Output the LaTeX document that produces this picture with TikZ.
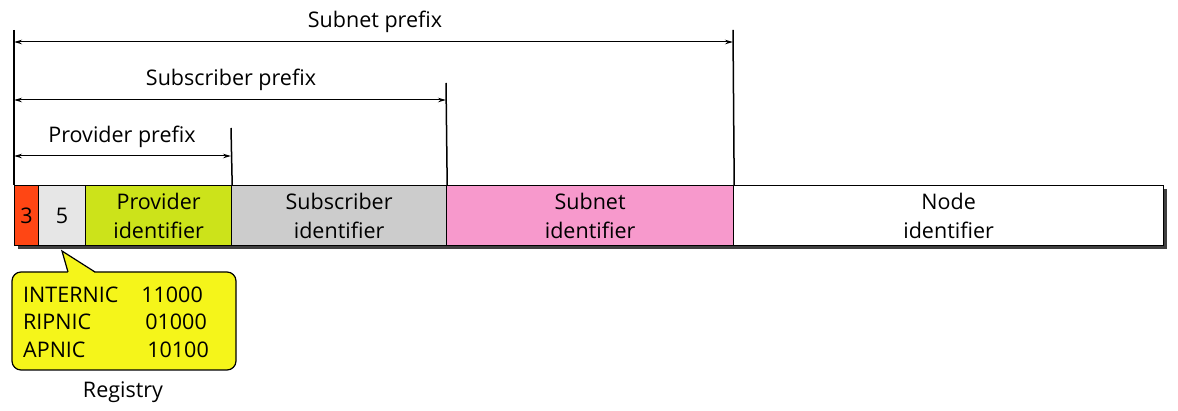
\documentclass[tikz,border=0pt]{standalone}
\usepackage{fontspec}
\setmainfont{Open Sans}
\usetikzlibrary{arrows.meta}
\definecolor{cred}{HTML}{FF4614}
\definecolor{clgray}{HTML}{E6E6E6}
\definecolor{cgreen}{HTML}{CCE31A}
\definecolor{cgray}{HTML}{CCCCCC}
\definecolor{cpink}{HTML}{F799CC}
\definecolor{cyel}{HTML}{F5F51A}
\definecolor{cshadow}{HTML}{404040}
\begin{document}
\begin{tikzpicture}[x=1pt,y=-1pt,
  field/.style={draw=black, line width=1.2pt, minimum height=60pt, inner sep=0pt, align=center, anchor=north west, font=\fontsize{21.5}{29}\selectfont},
  lbl/.style={font=\fontsize{21.5}{26}\selectfont, inner sep=0pt},
  dim/.style={line width=1pt, {Stealth[length=8pt,width=4.5pt]}-{Stealth[length=8pt,width=4.5pt]}},
  tick/.style={line width=1.5pt}]
\useasboundingbox (0,0) rectangle (1178,411);
% shadow
\fill[cshadow] (18,189) rectangle (1167,249);
% fields
\node[field, fill=cred, minimum width=24pt] (f3) at (14,185) {3};
\node[field, fill=clgray, minimum width=47pt] (f5) at (38,185) {5};
\node[field, fill=cgreen, minimum width=146pt] (fp) at (85,185) {Provider\\identifier};
\node[field, fill=cgray, minimum width=215pt] (fs) at (231,185) {Subscriber\\identifier};
\node[field, fill=cpink, minimum width=287pt] (fn) at (446,185) {Subnet\\identifier};
\node[field, fill=white, minimum width=430pt] (fd) at (733,185) {Node\\identifier};
% ticks
\coordinate (t0) at (14,30);
\coordinate (t1) at (231,128);
\coordinate (t2) at (446,83);
\coordinate (t3) at (733,30);
\draw[tick] (t0) -- (f3.north west);
\draw[tick] (t1) -- (fp.north east);
\draw[tick] (t2) -- (fs.north east);
\draw[tick] (t3) -- (fn.north east);
% dimension arrows
\coordinate (a1l) at (14,156); \coordinate (a1r) at (231,156);
\coordinate (a2l) at (14,100); \coordinate (a2r) at (446,100);
\coordinate (a3l) at (14,42); \coordinate (a3r) at (733,42);
\draw[dim] (a1l) -- (a1r);
\draw[dim] (a2l) -- (a2r);
\draw[dim] (a3l) -- (a3r);
\node[lbl] (l1) at (122,137) {Provider prefix};
\node[lbl] (l2) at (231,80) {Subscriber prefix};
\node[lbl] (l3) at (375,22) {Subnet prefix};
% callout
\coordinate (tip) at (62,251);
\draw[fill=cyel, line width=1.2pt, rounded corners=9pt] (12,272) rectangle (236,370);
\fill[cyel] (68,273) -- (tip) -- (95,273) -- cycle;
\draw[line width=1.2pt, line join=miter] (68,272) -- (tip) -- (95,272);
\node[lbl, anchor=west] (r1) at (23,295) {INTERNIC};
\node[lbl, anchor=west] (r2) at (23,322) {RIPNIC};
\node[lbl, anchor=west] (r3) at (23,350) {APNIC};
\node[lbl, anchor=east] (n1) at (203,295) {11000};
\node[lbl, anchor=east] (n2) at (207,322) {01000};
\node[lbl, anchor=east] (n3) at (209,350) {10100};
\node[lbl] (reg) at (123,392) {Registry};
\end{tikzpicture}
\end{document}
